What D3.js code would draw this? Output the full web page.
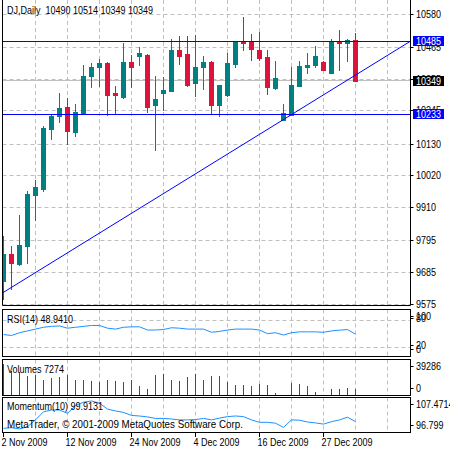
<!DOCTYPE html>
<html><head><meta charset="utf-8">
<script src="https://cdn.jsdelivr.net/npm/d3@7"></script>
<style>
html,body{margin:0;padding:0;background:#fff;}
svg{display:block;}
text{font-family:"Liberation Sans",Arial,sans-serif;font-size:10px;fill:#000;white-space:pre;}
</style></head><body>
<svg id="c" width="450" height="450"></svg>
<script>
// ---------- DATA ----------
const symbol = "DJ,Daily";
const opens  = [9656,9749,9714,9777,9953,9973,10183,10226,10257,10173,10236,10364,10395,10412,10306,10294,10414,10436,10438,10264,10305,10314,10456,10443,10341,10395,10413,10266,10300,10408,10486,10482,10456,10432,10325,10214,10232,10332,10398,10402,10415,10377,10482,10479,10490];
const highs  = [9812,9777,9883,9969,10007,10194,10232,10308,10288,10270,10404,10410,10424,10413,10332,10481,10439,10465,10440,10366,10362,10494,10505,10504,10509,10436,10419,10336,10444,10484,10569,10511,10518,10456,10418,10270,10398,10419,10445,10470,10416,10494,10525,10494,10514];
const lows   = [9593,9628,9711,9718,9869,9967,10149,10208,10131,10157,10234,10326,10332,10231,10237,10288,10326,10404,10241,10111,10249,10312,10408,10332,10298,10321,10235,10226,10297,10398,10456,10421,10421,10304,10322,10212,10230,10331,10375,10395,10386,10376,10387,10419,10349];
const closes = [9749,9718,9780,9956,9983,10187,10228,10256,10176,10240,10366,10397,10411,10300,10300,10414,10398,10444,10257,10287,10318,10456,10433,10336,10397,10415,10266,10335,10412,10482,10481,10459,10427,10329,10359,10237,10335,10401,10404,10433,10387,10482,10479,10490,10349];
const volumes = [36500,28200,26500,22600,23400,17850,20400,20800,23400,17850,17600,16660,15470,17850,16660,15470,17850,10700,7500,23800,25000,17850,16660,20600,25000,17850,22600,21800,15800,11900,11800,10700,12700,11900,2000,0,13900,12700,10700,3600,0,7500,7600,8300,7274];
const rsi = [48,46,52,56,60,64,66,67,62,64,66,68,68,62,60,64,65,65,58,58,59,63,62,60,60,60,53,55,58,60,60,60,58,50,52,47,52,54,54,54,53,56,57.7,59,48.941];
const momentum = [97.7,97.9,97.5,98.2,100.5,103.2,103.8,103.8,102.7,105.3,106.4,106.8,106.1,104.1,103.5,103.0,102.0,101.8,101.5,101.0,101.0,100.8,100.5,100.5,100.6,101.0,100.5,101.1,101.6,101.8,101.6,100.5,99.7,99.7,99.4,98.0,100.5,100.4,99.8,99.5,99.1,99.9,100.5,101.4,99.9131];
const priceTicks = [9575,9685,9795,9910,10020,10130,10245,10355,10465,10580];
const priceTickLabels = ["9575","9685","9795","9910","10020","10130","10245","10355","10465","10580"];
const hLevels = [10485, 10233];
const trendPts = [{i:-0.1875, v:9614},{i:50.8125, v:10485}];
const xLabelIdx = [0,8,16,24,32,40];
const xLabels = ["2 Nov 2009","12 Nov 2009","24 Nov 2009","4 Dec 2009","16 Dec 2009","27 Dec 2009"];
const gridIdx = [4,8,12,16,20,24,28,32,36,40,44,48];
const rsiLevels = [20,80];
const rsiLabels = ["100","80","20","0"];
const rsiLabelVals = [100,80,20,0];
const volMax = 39286;
const momMin = 96.799, momMax = 107.4714;
const copyright = "MetaTrader, \u00A9 2001-2009 MetaQuotes Software Corp.";

// ---------- LAYOUT ----------
const svg = d3.select("#c");
const L = 2.5, R = 410.5;
const main = {top:0, bottom:305.5};
const pR = {top:309.5, bottom:356.5};
const pV = {top:359.5, bottom:395.5};
const pM = {top:397.5, bottom:432.5};
const n = closes.length;
const last = n-1;
const SX = 0.9;

const x = d3.scaleLinear().domain([0, 50.8125]).range([3.5, 410]);
const y = d3.scaleLinear().domain([9575, 10580]).range([304.5, 14]);
const yR = d3.scaleLinear().domain([0,100]).range([356.4, 310.9]);
const yV = d3.scaleLinear().domain([0, volMax]).range([395, 361.5]);
const yM = d3.scaleLinear().domain([momMin, momMax]).range([431, 399]);
const crisp = v => Math.round(v - 0.5) + 0.5;

const UP = "#008080", DN = "#DC143C", BLUE = "#0000FF", GRID = "#C0C0C0", LINE = "#1E90FF";

function txt(g, tx, ty, s, sx, fill){
  const t = g.append("text").attr("transform",`translate(${tx},${ty}) scale(${sx||SX},1)`)
    .attr("dy","0.35em").text(s);
  if (fill) t.style("fill", fill);
  return t;
}

svg.append("rect").attr("width",450).attr("height",450).attr("fill","#fff");

svg.append("clipPath").attr("id","cm").append("rect").attr("x",L).attr("y",0).attr("width",R-L).attr("height",main.bottom);

// vertical dashed grid across all panels
[[main.top, main.bottom],[pR.top,pR.bottom],[pV.top,pV.bottom],[pM.top,pM.bottom]].forEach(([t,b])=>{
  svg.append("g").selectAll("line").data(gridIdx).join("line")
    .attr("x1",d=>x(d)).attr("x2",d=>x(d)).attr("y1",t).attr("y2",b)
    .attr("stroke",GRID).attr("stroke-dasharray","4,3");
});
// horizontal dashed grid main
svg.append("g").selectAll("line").data(priceTicks).join("line")
  .attr("x1",L).attr("x2",R).attr("y1",d=>crisp(y(d))).attr("y2",d=>crisp(y(d)))
  .attr("stroke",GRID).attr("stroke-dasharray","4,3");
// RSI levels
svg.append("g").selectAll("line").data(rsiLevels).join("line")
  .attr("x1",L).attr("x2",R).attr("y1",d=>crisp(yR(d))).attr("y2",d=>crisp(yR(d)))
  .attr("stroke",GRID).attr("stroke-dasharray","4,3");

// current price line
svg.append("line").attr("x1",L).attr("x2",R)
  .attr("y1",crisp(y(closes[last]))).attr("y2",crisp(y(closes[last])))
  .attr("stroke",GRID);

// candles
const idx = d3.range(n);
const cg = svg.append("g").attr("clip-path","url(#cm)");
cg.selectAll("line.w").data(idx).join("line").attr("class","w")
  .attr("x1",i=>x(i)).attr("x2",i=>x(i))
  .attr("y1",i=>Math.round(y(highs[i]))).attr("y2",i=>Math.round(y(lows[i]))+1)
  .attr("stroke",i=>closes[i]>=opens[i]?UP:DN);
cg.selectAll("rect.b").data(idx).join("rect").attr("class","b")
  .attr("x",i=>x(i)-2.5).attr("width",5)
  .attr("y",i=>Math.round(y(Math.max(opens[i],closes[i]))))
  .attr("height",i=>Math.max(1, Math.round(y(Math.min(opens[i],closes[i])))-Math.round(y(Math.max(opens[i],closes[i])))+1))
  .attr("fill",i=>closes[i]>=opens[i]?UP:DN);

// horizontal blue levels
svg.append("g").selectAll("line").data(hLevels).join("line")
  .attr("x1",L).attr("x2",R).attr("y1",d=>crisp(y(d))).attr("y2",d=>crisp(y(d)))
  .attr("stroke",BLUE);
// trend line
cg.append("path").attr("d", d3.line().x(d=>x(d.i)).y(d=>y(d.v))(trendPts))
  .attr("fill","none").attr("stroke",BLUE).attr("stroke-width",1);

// RSI line
svg.append("path").attr("d", d3.line().x((d,i)=>x(i)).y(d=>yR(d))(rsi))
  .attr("fill","none").attr("stroke",LINE);
// Volume bars
svg.append("g").selectAll("line").data(idx.filter(i=>volumes[i]>0)).join("line")
  .attr("x1",i=>x(i)).attr("x2",i=>x(i)).attr("y1",i=>Math.round(yV(volumes[i]))).attr("y2",pV.bottom-0.5)
  .attr("stroke",i=>(i>0 && volumes[i]>volumes[i-1])?"#008000":"#FF0000");
// Momentum line
svg.append("path").attr("d", d3.line().x((d,i)=>x(i)).y(d=>yM(d))(momentum))
  .attr("fill","none").attr("stroke",LINE);

// borders
const bl = (x1,y1,x2,y2)=>svg.append("line").attr("x1",x1).attr("y1",y1).attr("x2",x2).attr("y2",y2).attr("stroke","#000");
bl(L,0,L,main.bottom); bl(R,0,R,main.bottom); bl(L,main.bottom,R,main.bottom);
[pR,pV,pM].forEach(p=>{
  svg.append("rect").attr("x",L).attr("y",p.top).attr("width",R-L).attr("height",p.bottom-p.top)
    .attr("fill","none").attr("stroke","#000");
});

// right price axis
const ax = svg.append("g");
priceTicks.forEach((v,k)=>{
  const yy = crisp(y(v));
  ax.append("line").attr("x1",R).attr("x2",R+3).attr("y1",yy).attr("y2",yy).attr("stroke","#000");
  txt(ax, 416, yy, priceTickLabels[k]);
});
function subLabels(vals, labels, sc, p){
  vals.forEach((v,k)=>{
    const yy = Math.max(p.top+7, Math.min(p.bottom-7.5, sc(v)-1.5));
    ax.append("line").attr("x1",R).attr("x2",R+3).attr("y1",crisp(yy)).attr("y2",crisp(yy)).attr("stroke","#000");
    txt(ax, 416, yy, labels[k]);
  });
}
subLabels(rsiLabelVals, rsiLabels, yR, pR);
subLabels([volMax,0], [String(volMax),"0"], yV, pV);
subLabels([momMax,momMin], [String(momMax),String(momMin)], yM, pM);

// price boxes
const boxes = [{v:hLevels[0], c:BLUE},{v:closes[last], c:"#000"},{v:hLevels[1], c:BLUE}];
boxes.forEach(b=>{
  const yy = y(b.v);
  ax.append("rect").attr("x",413).attr("y",Math.round(yy)-5).attr("width",31).attr("height",10).attr("fill",b.c);
  txt(ax, 416, Math.round(yy), d3.format("d")(b.v), SX, "#fff");
});

// x axis
xLabelIdx.forEach((i,k)=>{
  ax.append("line").attr("x1",crisp(x(i))).attr("x2",crisp(x(i))).attr("y1",pM.bottom).attr("y2",437).attr("stroke","#000");
  txt(ax, x(i)-2, 442, xLabels[k]);
});

// titles
txt(svg, 7, 10.7, symbol + "  " + [opens[last],highs[last],lows[last],closes[last]].join(" "));
txt(svg, 7, 319.5, "RSI(14) " + d3.format(".4f")(rsi[last]));
txt(svg, 7, 369.5, "Volumes " + volumes[last]);
txt(svg, 7, 406.7, "Momentum(10) " + d3.format(".4f")(momentum[last]));
txt(svg, 7, 424, copyright, 0.98);
</script>
</body></html>
